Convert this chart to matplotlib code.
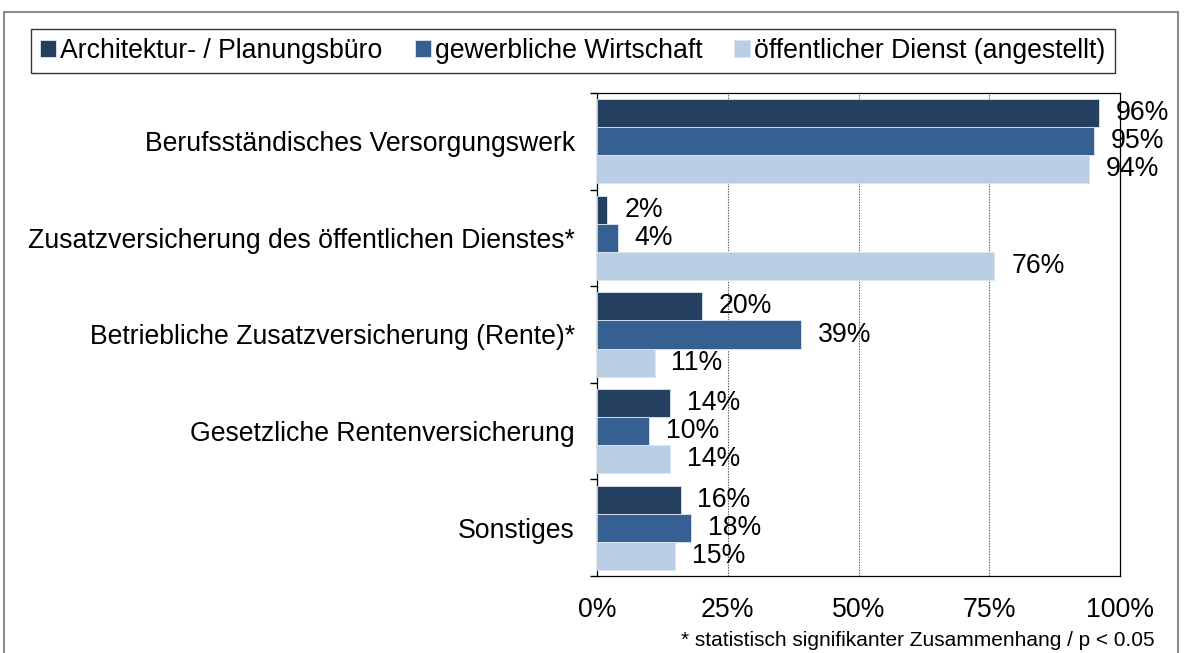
import matplotlib
matplotlib.use("Agg")
import matplotlib.pyplot as plt
from matplotlib.patches import Rectangle
import numpy as np

plt.rcParams['font.family'] = ['Liberation Sans', 'DejaVu Sans']

categories = [
    "Berufsständisches Versorgungswerk",
    "Zusatzversicherung des öffentlichen Dienstes*",
    "Betriebliche Zusatzversicherung (Rente)*",
    "Gesetzliche Rentenversicherung",
    "Sonstiges",
]
series_names = [
    "Architektur- / Planungsbüro",
    "gewerbliche Wirtschaft",
    "öffentlicher Dienst (angestellt)",
]
architektur = [96, 2, 20, 14, 16]
gewerblich = [95, 4, 39, 10, 18]
oeffentlich = [94, 76, 11, 14, 15]
series_values = [architektur, gewerblich, oeffentlich]
colors = ["#243F60", "#366092", "#B9CDE5"]
x_ticks = [0, 25, 50, 75, 100]
x_tick_labels = ["0%", "25%", "50%", "75%", "100%"]
footnote = "* statistisch signifikanter Zusammenhang / p < 0.05"

FS = 19.2
W, H = 1184, 653
fig = plt.figure(figsize=(W / 100, H / 100), dpi=100)

# outer chart-area frame
fig.patches.append(Rectangle((4 / W, -0.01), (1178 - 4) / W, 1 - 12 / H + 0.01,
                             transform=fig.transFigure, fill=False,
                             edgecolor="#8C8C8C", linewidth=1.5))

ax = fig.add_axes([597 / W, 1 - 576 / H, (1120 - 597) / W, (576 - 93) / H])

n = len(categories)
bar_h = 0.29
centers = np.arange(n)
for i, (vals, col) in enumerate(zip(series_values, colors)):
    ypos = centers + (i - 1) * bar_h
    ax.barh(ypos, vals, height=bar_h, color=col, edgecolor="#DCE6F2",
            linewidth=0.6, label=series_names[i], zorder=3)
    for y, v in zip(ypos, vals):
        ax.annotate(f"{v}%", xy=(v, y), xytext=(12, 0), textcoords="offset points",
                    ha="left", va="center", fontsize=FS, color="black", zorder=5)

ax.set_xlim(0, 100)
ax.set_ylim(n - 0.5, -0.5)
ax.set_xticks(x_ticks)
ax.set_xticklabels(x_tick_labels, fontsize=FS)
ax.set_yticks(centers)
ax.set_yticklabels(categories, fontsize=FS)
ax.tick_params(axis="y", length=0, pad=16)
ax.tick_params(axis="x", length=0, pad=15)
# category boundary ticks on the left axis
ax.set_yticks(np.arange(-0.5, n, 1.0), minor=True)
ax.tick_params(axis="y", which="minor", length=5, direction="out", width=1)
ax.set_xticks([0, 100], minor=True)
ax.tick_params(axis="x", which="minor", length=5, direction="out", width=1)

for g in [25, 50, 75]:
    ax.axvline(g, color="#555555", linestyle=(0, (1.2, 1.2)), linewidth=0.8, zorder=1)

for side in ["top", "right", "bottom", "left"]:
    ax.spines[side].set_color("black")
    ax.spines[side].set_linewidth(0.9)

handles, labels = ax.get_legend_handles_labels()
leg = fig.legend(handles, labels, loc="center", bbox_to_anchor=(573 / W, 1 - 51 / H),
                 ncol=3, fontsize=FS, frameon=True, fancybox=False,
                 edgecolor="black", handlelength=0.6, handleheight=0.6,
                 handletextpad=0.15, columnspacing=1.2, borderpad=0.35)
leg.get_frame().set_linewidth(1.0)

fig.text(1155 / W, 1 - 640 / H, footnote, ha="right", va="center", fontsize=15)

fig.savefig("out.png", dpi=100, facecolor="white")
